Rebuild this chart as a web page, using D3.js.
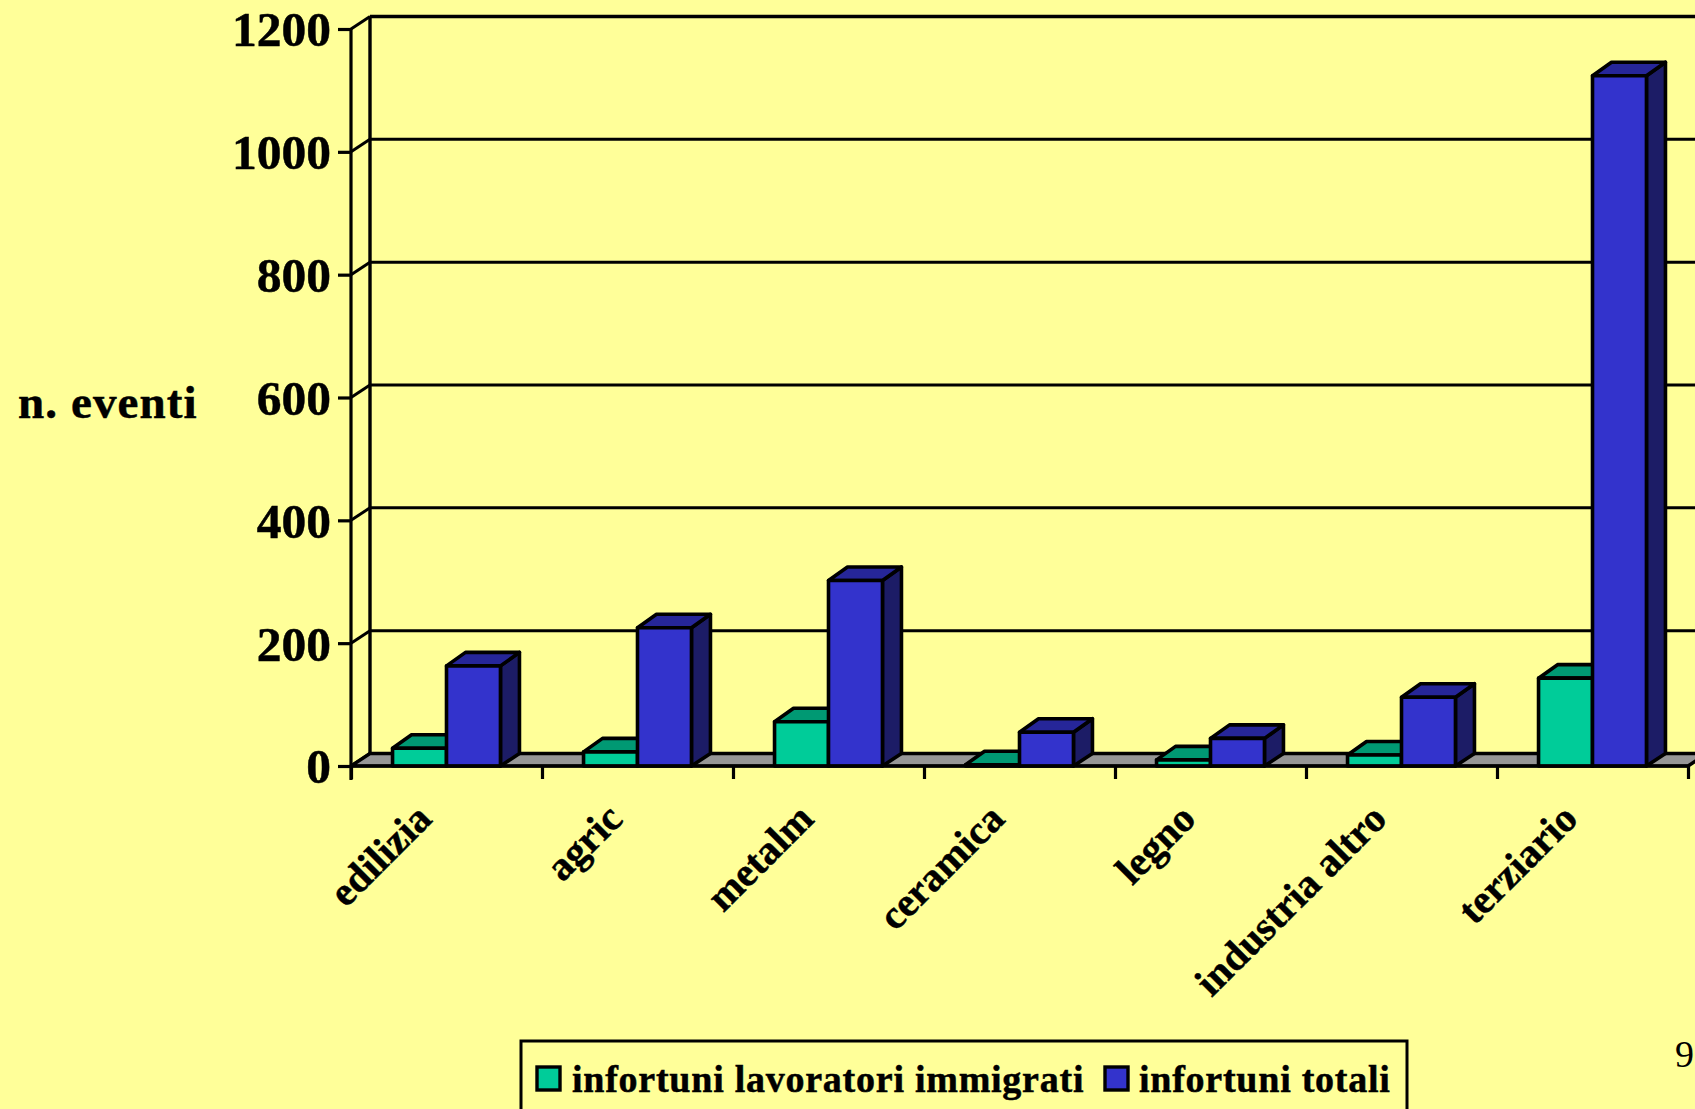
<!DOCTYPE html>
<html>
<head>
<meta charset="utf-8">
<script src="https://cdn.jsdelivr.net/npm/d3@7"></script>
<style>
  html, body { margin: 0; padding: 0; background: #ffff99; overflow: hidden; }
  text { font-family: "Liberation Serif", serif; font-weight: bold; fill: #000; stroke: #000; stroke-width: 0.5px; }
</style>
</head>
<body>
<script>
const categories = ["edilizia", "agric", "metalm", "ceramica", "legno", "industria altro", "terziario"];
const immigrati = [29, 23, 72, 2, 10, 18, 143];
const totali = [163, 225, 302, 55, 45, 112, 1124];
const seriesNames = ["infortuni lavoratori immigrati", "infortuni totali"];
const yTicks = [0, 200, 400, 600, 800, 1000, 1200];

const W = 1695, H = 1109;
const dx = 19, wallDy = 12.5, barDy = 13.5;
const left = 351, right = 1688, y0 = 766, y1200 = 29;

const colors = [
  { front: "#00cc99", top: "#009973", side: "#006b50" },
  { front: "#3333cc", top: "#262699", side: "#1c1c66" },
];

const svg = d3.select("body").append("svg")
  .attr("width", W).attr("height", H)
  .style("display", "block");

const y = d3.scaleLinear().domain([0, 1200]).range([y0, y1200]);
const xEdge = d3.scaleLinear().domain([0, categories.length]).range([left, right]);
const x = d3.scaleBand().domain(categories).range([left, right]).paddingInner(0.435).paddingOuter(0.2175);
const xs = d3.scaleBand().domain([0, 1]).range([0, x.bandwidth()]);

// back wall grid
svg.selectAll(".grid")
  .data(yTicks.slice(1))
  .enter().append("line")
  .attr("x1", left + dx).attr("x2", W + 5)
  .attr("y1", d => y(d) - wallDy).attr("y2", d => y(d) - wallDy)
  .attr("stroke", "#000")
  .attr("stroke-width", d => d == 1200 ? 3.4 : 3);

// side wall
svg.append("line")
  .attr("x1", left + dx).attr("x2", left + dx)
  .attr("y1", y(1200) - wallDy).attr("y2", y0 - wallDy)
  .attr("stroke", "#000").attr("stroke-width", 3.4);
svg.selectAll(".wall")
  .data(yTicks)
  .enter().append("line")
  .attr("x1", left).attr("y1", d => y(d))
  .attr("x2", left + dx).attr("y2", d => y(d) - wallDy)
  .attr("stroke", "#000").attr("stroke-width", 3);

// floor
svg.append("polygon")
  .attr("points", [[left, y0], [left + dx, y0 - wallDy], [right + dx, y0 - wallDy], [right, y0]].join(" "))
  .attr("fill", "#969696").attr("stroke", "#000").attr("stroke-width", 3.4)
  .attr("stroke-linejoin", "round");

// bars
const groups = svg.selectAll(".cat")
  .data(categories.map((c, i) => ({ c, vals: [immigrati[i], totali[i]] })))
  .enter().append("g")
  .attr("transform", d => `translate(${x(d.c)},0)`);

[0, 1].forEach(s => {
  const g = groups.append("g").attr("transform", `translate(${xs(s)},0)`);
  const w = xs.bandwidth();
  g.append("polygon") // side
    .attr("points", d => [[w, y(d.vals[s])], [w + dx, y(d.vals[s]) - barDy], [w + dx, y0 - wallDy], [w, y0]].join(" "))
    .attr("fill", colors[s].side);
  g.append("polygon") // top
    .attr("points", d => [[0, y(d.vals[s])], [dx, y(d.vals[s]) - barDy], [w + dx, y(d.vals[s]) - barDy], [w, y(d.vals[s])]].join(" "))
    .attr("fill", colors[s].top);
  g.append("rect") // front
    .attr("y", d => y(d.vals[s]))
    .attr("width", w)
    .attr("height", d => y0 - y(d.vals[s]))
    .attr("fill", colors[s].front);
  g.selectAll("polygon, rect")
    .attr("stroke", "#000").attr("stroke-width", 3.6).attr("stroke-linejoin", "round");
});

// axes
const yAxis = svg.append("g")
  .attr("transform", `translate(${left},0)`)
  .call(d3.axisLeft(y).tickValues(yTicks).tickSize(13).tickPadding(7).tickFormat(d3.format("d")));
const xAxis = svg.append("g")
  .attr("transform", `translate(0,${y0})`)
  .call(d3.axisBottom(xEdge).ticks(categories.length).tickSize(13).tickFormat(""));
yAxis.selectAll("path, line").attr("stroke", "#000").attr("stroke-width", 3.2);
xAxis.selectAll("path, line").attr("stroke", "#000").attr("stroke-width", 3.2);
yAxis.select("path").attr("d", `M0,${y1200}V${y0 + 14}`);
xAxis.select("path").attr("d", `M${left},0H${right}`);
yAxis.selectAll("text")
  .attr("dy", "0.34em")
  .style("font-family", '"Liberation Serif", serif')
  .style("font-weight", "bold").style("font-size", "49.5px").attr("fill", "#000");

// category labels
svg.selectAll(".cat-label")
  .data(categories)
  .enter().append("text")
  .attr("text-anchor", "end")
  .attr("font-size", 40.5)
  .attr("transform", d => `translate(${x(d) + x.bandwidth() / 2 - 13},${y0 + 55}) rotate(-45)`)
  .text(d => d);

// y title
svg.append("text")
  .attr("x", 18).attr("y", 418)
  .attr("font-size", 47).attr("letter-spacing", 1.1)
  .text("n. eventi");

// legend
svg.append("rect")
  .attr("x", 521).attr("y", 1041).attr("width", 886).attr("height", 90)
  .attr("fill", "none").attr("stroke", "#000").attr("stroke-width", 3);
const legendX = [537, 1105], legendTextX = [572, 1139];
seriesNames.forEach((n, i) => {
  svg.append("rect")
    .attr("x", legendX[i]).attr("y", 1067).attr("width", 23).attr("height", 23)
    .attr("fill", colors[i].front)
    .attr("stroke", "#000").attr("stroke-width", 3.4);
  svg.append("text")
    .attr("x", legendTextX[i]).attr("y", 1092)
    .attr("font-size", 38).attr("letter-spacing", 0.75)
    .text(n);
});

// page number
svg.append("text")
  .attr("x", 1675).attr("y", 1067)
  .attr("font-size", 38).style("font-weight", "normal").style("stroke-width", 0)
  .text("9");
</script>
</body>
</html>
